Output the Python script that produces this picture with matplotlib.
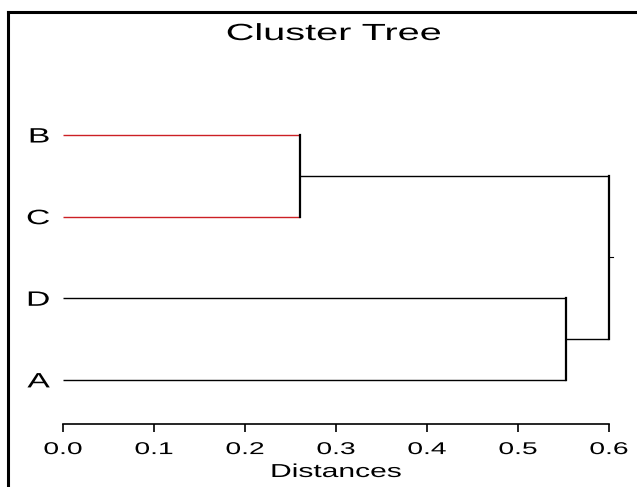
import matplotlib
matplotlib.use("Agg")
import matplotlib.pyplot as plt
from matplotlib.lines import Line2D
from matplotlib.patheffects import AbstractPathEffect
from matplotlib.transforms import Affine2D

plt.rcParams['font.family'] = ['Liberation Sans', 'DejaVu Sans']

# Leaves from bottom to top
leaves = ['A', 'D', 'C', 'B']
leaf_colors = ['black', 'black', '#cc2024', '#cc2024']
# merges: (left child, right child, distance); children index leaves (0..3) or new clusters (4..)
merge_left = [3, 1, 4]
merge_right = [2, 0, 5]
merge_height = [0.260, 0.553, 0.600]
xticks = [0.0, 0.1, 0.2, 0.3, 0.4, 0.5, 0.6]


class StretchX(AbstractPathEffect):
    """Widen rendered text horizontally around an anchor (text stays a Text artist)."""

    def __init__(self, sx, anchor='center'):
        super().__init__()
        self.sx = sx
        self.anchor = anchor

    def draw_path(self, renderer, gc, tpath, affine, rgbFace=None):
        ext = tpath.get_extents(affine)
        if self.anchor == 'right':
            cx = ext.x1
        elif self.anchor == 'left':
            cx = ext.x0
        else:
            cx = 0.5 * (ext.x0 + ext.x1)
        aff = affine + Affine2D().translate(-cx, 0).scale(self.sx, 1).translate(cx, 0)
        renderer.draw_path(gc, tpath, aff, rgbFace)


SX = 1.65
W, H = 637, 487
fig = plt.figure(figsize=(W / 100, H / 100), dpi=100)
ax = fig.add_axes([63 / W, 1 - 424 / H, (609 - 63) / W, (424 - 118.7) / H])
ax.set_xlim(0, 0.6)
ax.set_ylim(0.46, 4.2)

# node positions
ypos = {i: float(i + 1) for i in range(len(leaves))}
xpos = {i: 0.0 for i in range(len(leaves))}
for k, (l, r, h) in enumerate(zip(merge_left, merge_right, merge_height)):
    node = len(leaves) + k
    for c in (l, r):
        col = leaf_colors[c] if c < len(leaves) else 'black'
        ax.plot([xpos[c], h], [ypos[c], ypos[c]], color=col, lw=1.0,
                solid_capstyle='butt', clip_on=False)
    ax.plot([h, h], [ypos[l], ypos[r]], color='black', lw=1.6,
            solid_capstyle='projecting', clip_on=False)
    xpos[node] = h
    ypos[node] = (ypos[l] + ypos[r]) / 2

# root stub
root = len(leaves) + len(merge_height) - 1
ax.plot([xpos[root], xpos[root] + 0.004], [ypos[root], ypos[root]],
        color='black', lw=0.8, clip_on=False)

for s in ['top', 'right', 'left']:
    ax.spines[s].set_visible(False)
ax.spines['bottom'].set_linewidth(1.2)
ax.set_xticks(xticks)
ax.set_xticklabels([f"{t:.1f}" for t in xticks], fontsize=12.3)
ax.tick_params(axis='x', direction='out', length=6, width=1.2, pad=7)
ax.set_yticks(range(1, len(leaves) + 1))
ax.set_yticklabels(leaves, fontsize=15)
ax.tick_params(axis='y', length=0, pad=9.5)
for t in ax.get_xticklabels():
    t.set_path_effects([StretchX(SX, 'center')])
for t in ax.get_yticklabels():
    t.set_path_effects([StretchX(SX * 0.98, 'right')])
xl = ax.set_xlabel('Distances', fontsize=13.5, labelpad=5)
xl.set_path_effects([StretchX(SX * 0.97, 'center')])
ax.patch.set_alpha(0)

title = fig.text(0.5 * (225 + 443) / W, 1 - 40 / H, 'Cluster Tree', fontsize=16.8,
                 ha='center', va='baseline')
title.set_path_effects([StretchX(1.7, 'center')])

# border lines (top and left)
fig.add_artist(Line2D([8 / W, 1], [1 - 12 / H, 1 - 12 / H], color='black', lw=2.2))
fig.add_artist(Line2D([8 / W, 8 / W], [0, 1 - 12 / H], color='black', lw=2.2))

fig.savefig('out.png', dpi=100)
